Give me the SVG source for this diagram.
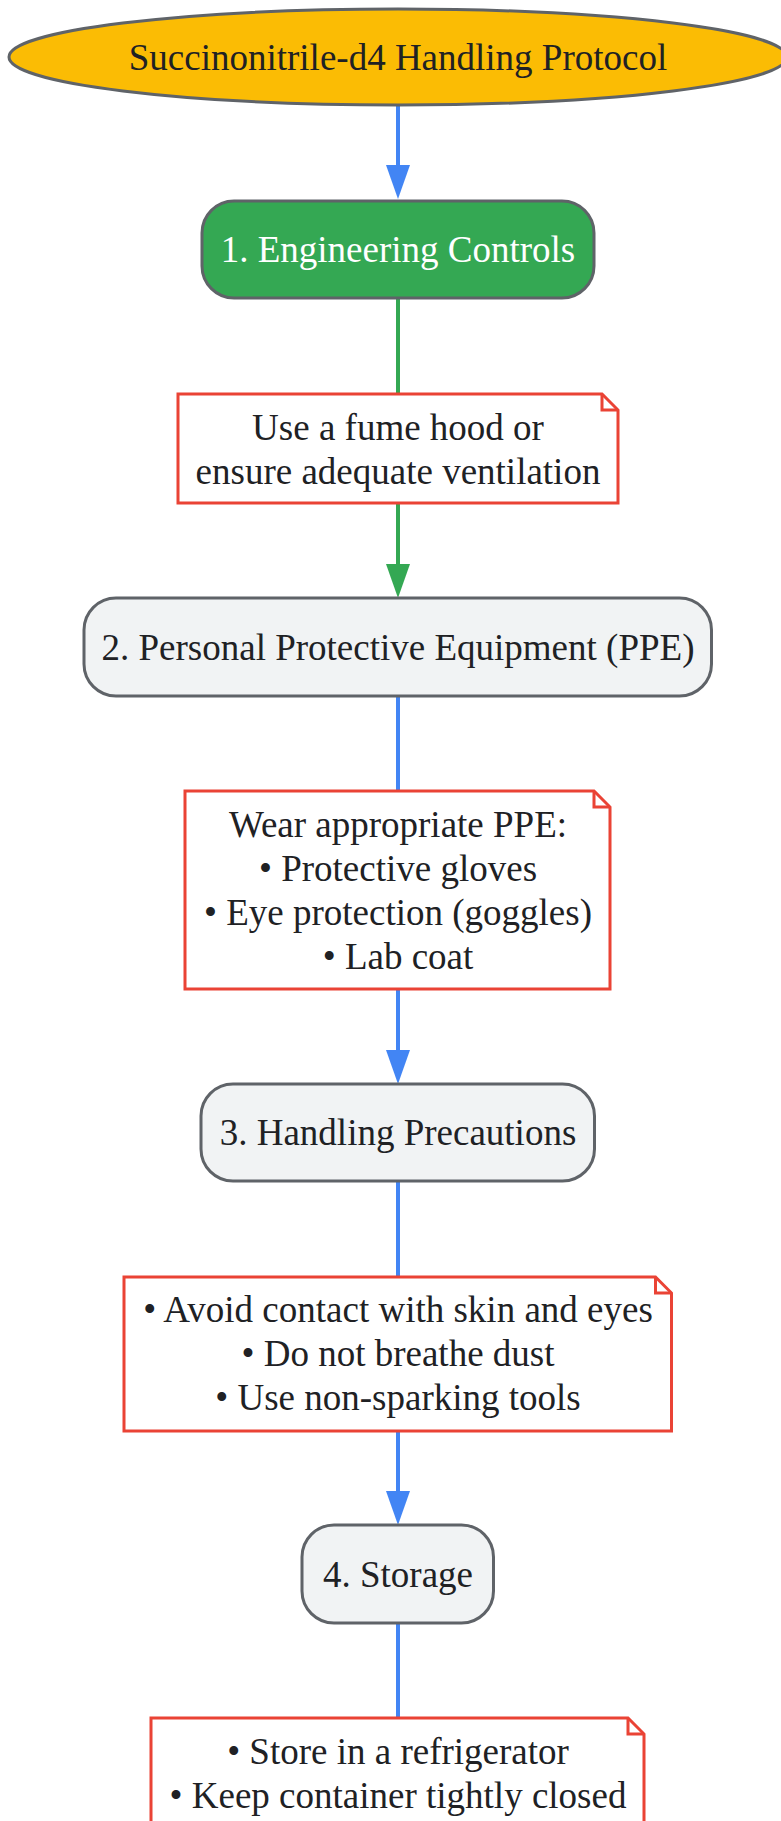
<svg xmlns="http://www.w3.org/2000/svg" width="781" height="1821" viewBox="0 0 781 1821">
  <style>
    text { font-family: "Liberation Serif", "Times New Roman", serif; font-size: 37px; fill: #202124; text-anchor: middle; }
    .node { fill: #f1f3f4; stroke: #5f6368; stroke-width: 3; }
    .note { fill: #ffffff; stroke: #ea4335; stroke-width: 3; stroke-linejoin: miter; }
    .fold { fill: none; stroke: #ea4335; stroke-width: 3; }
    .blue { stroke: #4285f4; stroke-width: 4; fill: none; }
    .green { stroke: #34a853; stroke-width: 4; fill: none; }
    .ahb { fill: #4285f4; }
    .ahg { fill: #34a853; }
  </style>
  <rect x="0" y="0" width="781" height="1821" fill="#ffffff"/>

  <g id="connectors">
    <line class="blue" x1="398" y1="105" x2="398" y2="166"/>
    <polygon class="ahb" points="398,199 386,165 410,165"/>
    <line class="green" x1="398" y1="298" x2="398" y2="394"/>
    <line class="green" x1="398" y1="503" x2="398" y2="564"/>
    <polygon class="ahg" points="398,598 386,564 410,564"/>
    <line class="blue" x1="398" y1="696" x2="398" y2="791"/>
    <line class="blue" x1="398" y1="989" x2="398" y2="1051"/>
    <polygon class="ahb" points="398,1084 386,1050 410,1050"/>
    <line class="blue" x1="398" y1="1181" x2="398" y2="1277"/>
    <line class="blue" x1="398" y1="1431" x2="398" y2="1492"/>
    <polygon class="ahb" points="398,1525 386,1491 410,1491"/>
    <line class="blue" x1="398" y1="1623" x2="398" y2="1718"/>
  </g>

  <g id="start">
    <ellipse cx="398" cy="57" rx="389" ry="48" fill="#fbbc04" stroke="#5f6368" stroke-width="3"/>
    <text x="398" y="70">Succinonitrile-d4 Handling Protocol</text>
  </g>

  <g id="step1">
    <rect x="202" y="201" width="392" height="97" rx="32" ry="32" fill="#34a853" stroke="#5f6368" stroke-width="3"/>
    <text x="398" y="262" style="fill:#ffffff">1. Engineering Controls</text>
  </g>

  <g id="note1">
    <path class="note" d="M178,394 H602 L618,410 V503 H178 Z"/>
    <path class="fold" d="M602,394 V410 H618"/>
    <text x="398" y="439.5">Use a fume hood or</text>
    <text x="398" y="483.5">ensure adequate ventilation</text>
  </g>

  <g id="step2">
    <rect class="node" x="84" y="598" width="627.5" height="98" rx="32" ry="32"/>
    <text x="398" y="659.5">2. Personal Protective Equipment (PPE)</text>
  </g>

  <g id="note2">
    <path class="note" d="M185,791 H594 L610,807 V989 H185 Z"/>
    <path class="fold" d="M594,791 V807 H610"/>
    <text x="398" y="836.5">Wear appropriate PPE:</text>
    <text x="398" y="880.5">• Protective gloves</text>
    <text x="398" y="924.5">• Eye protection (goggles)</text>
    <text x="398" y="968.5">• Lab coat</text>
  </g>

  <g id="step3">
    <rect class="node" x="201" y="1084" width="393.5" height="97" rx="32" ry="32"/>
    <text x="398" y="1145">3. Handling Precautions</text>
  </g>

  <g id="note3">
    <path class="note" d="M124,1277 H655.5 L671.5,1293 V1431 H124 Z"/>
    <path class="fold" d="M655.5,1277 V1293 H671.5"/>
    <text x="398" y="1322">• Avoid contact with skin and eyes</text>
    <text x="398" y="1366">• Do not breathe dust</text>
    <text x="398" y="1410">• Use non-sparking tools</text>
  </g>

  <g id="step4">
    <rect class="node" x="302" y="1525" width="191.5" height="98" rx="32" ry="32"/>
    <text x="398" y="1586.5">4. Storage</text>
  </g>

  <g id="note4">
    <path class="note" d="M151,1718 H628 L644,1734 V1840 H151 Z"/>
    <path class="fold" d="M628,1718 V1734 H644"/>
    <text x="398" y="1763.5">• Store in a refrigerator</text>
    <text x="398" y="1807.5">• Keep container tightly closed</text>
  </g>
</svg>
